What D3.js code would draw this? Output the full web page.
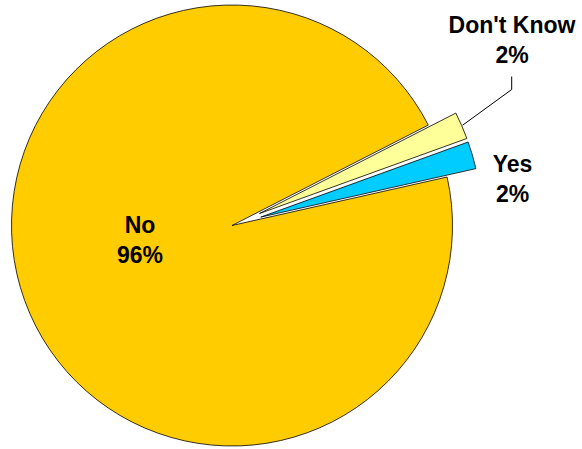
<!DOCTYPE html>
<html><head><meta charset="utf-8">
<script src="https://cdn.jsdelivr.net/npm/d3@7"></script>
<style>html,body{margin:0;padding:0;background:#fff;}svg{display:block;}</style>
</head><body>
<svg id="chart" width="582" height="449"></svg>
<script>
const categories = ["Don't Know", "Yes", "No"];
const values = [2, 2, 96];
const labels = ["2%", "2%", "96%"];
const colors = ["#FFFF99", "#00CCFF", "#FFCC00"];
const exploded = [true, true, false];

const W = 582, H = 449;
const cx = 232, cy = 225.5, R = 220.5, explode = 30;
const startDeg = 62.9;

const svg = d3.select("#chart");
const g = svg.append("g").attr("transform", `translate(${cx},${cy})`);

const pie = d3.pie().sort(null).value(d => d.v)
  .startAngle(startDeg * Math.PI / 180)
  .endAngle(startDeg * Math.PI / 180 + 2 * Math.PI);
const data = categories.map((c, i) => ({c, v: values[i], lab: labels[i], col: colors[i], ex: exploded[i]}));
const arcs = pie(data);
const arc = d3.arc().innerRadius(0).outerRadius(R);

function offset(d) {
  if (!d.data.ex) return [0, 0];
  const a = (d.startAngle + d.endAngle) / 2;
  return [explode * Math.sin(a), -explode * Math.cos(a)];
}

g.selectAll("path.slice").data(arcs).enter().append("path")
  .attr("class", "slice")
  .attr("d", arc)
  .attr("transform", d => { const o = offset(d); return `translate(${o[0]},${o[1]})`; })
  .attr("fill", d => d.data.col)
  .attr("stroke", "#000")
  .attr("stroke-width", 0.8)
  .attr("stroke-linejoin", "miter");

// label layout (absolute positions)
const labelPos = {
  "Don't Know": [512, 33, 63],
  "Yes": [512.5, 171.5, 201.5],
  "No": [140, 232.5, 263]
};

// leader line for Don't Know
const dk = arcs[0];
const o = offset(dk);
const la = (dk.startAngle + dk.endAngle) / 2;
const px = cx + o[0] + (R + 1) * Math.sin(la);
const py = cy + o[1] - (R + 1) * Math.cos(la);
svg.append("polyline")
  .attr("points", `${px},${py} 511.7,89.5 511.7,76.5`)
  .attr("fill", "none").attr("stroke", "#000").attr("stroke-width", 1);

const tg = svg.append("g")
  .attr("font-family", "'Liberation Sans', Arial, sans-serif")
  .attr("font-weight", "bold").attr("font-size", "23px")
  .attr("text-anchor", "middle").attr("fill", "#000");
arcs.forEach(d => {
  const p = labelPos[d.data.c];
  tg.append("text").attr("x", p[0]).attr("y", p[1]).text(d.data.c);
  tg.append("text").attr("x", p[0]).attr("y", p[2]).text(d.data.lab);
});
</script>
</body></html>
